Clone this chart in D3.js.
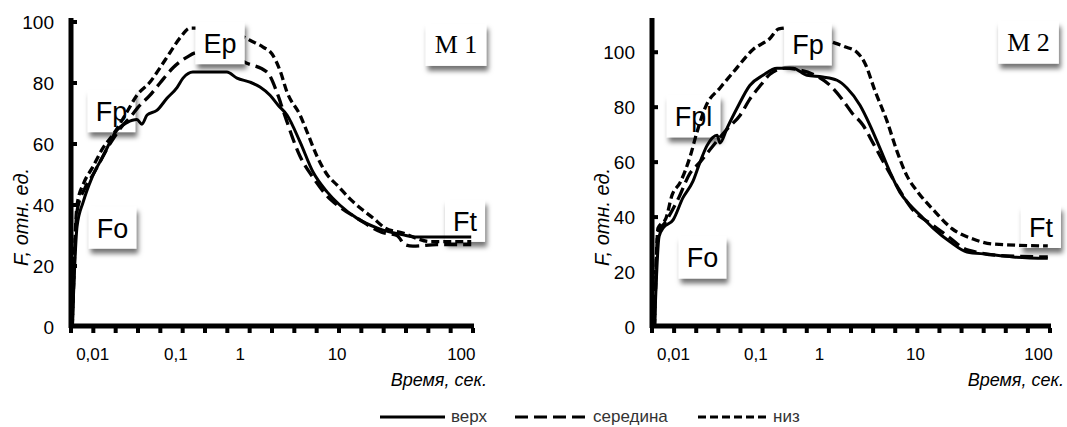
<!DOCTYPE html>
<html>
<head>
<meta charset="utf-8">
<script src="https://cdn.jsdelivr.net/npm/d3@7"></script>
<style>
    body { margin: 0; background: #fff; }
    svg { display: block; font-family: Arial, "Liberation Sans", sans-serif; }
</style>
</head>
<body>
<svg width="1067" height="427"></svg>
<script>
// time, sec -> F, rel. units
const m1Verh = [[0.0057, 0], [0.0065, 33], [0.0077, 41], [0.0098, 49], [0.0133, 56], [0.0196, 64.6], [0.0258, 67], [0.034, 68], [0.039, 66.5], [0.045, 69.5], [0.059, 71], [0.078, 75], [0.104, 78.5], [0.129, 81.6], [0.184, 83.6], [0.62, 83.6], [0.89, 81.6], [1.26, 80.3], [1.6, 78.7], [2.03, 76], [2.45, 72.8], [3.04, 69.5], [4.14, 60.7], [5.64, 50.8], [7.87, 44.3], [10.5, 40], [14.4, 35.7], [20.9, 32.5], [33.9, 30.2], [44, 29.5], [120, 29.5]]
const m1Sered = [[0.0057, 0], [0.0065, 38], [0.0081, 45.6], [0.0101, 50], [0.0161, 60], [0.0213, 65], [0.0297, 69.5], [0.035, 72], [0.0489, 76], [0.0644, 80], [0.0923, 85], [0.149, 88.5], [0.213, 90], [0.406, 90], [0.77, 88.5], [1.17, 86.5], [1.89, 83.6], [2.45, 76], [2.77, 71], [4.14, 56], [5.64, 49], [7.87, 43], [10, 40], [14.7, 35.5], [23, 31], [30.3, 30], [35.2, 27], [40.8, 26.5], [63.7, 27], [120, 27]]
const m1Niz = [[0.0057, 0], [0.0065, 40], [0.0079, 47.5], [0.0098, 52], [0.0133, 58.7], [0.0175, 63], [0.0258, 70.5], [0.034, 76], [0.0489, 80.3], [0.0644, 85], [0.085, 90], [0.116, 94.8], [0.166, 98], [0.62, 98], [0.99, 95.7], [1.26, 94], [1.72, 91.8], [2.13, 89.5], [2.58, 84], [3.04, 77], [4.14, 69.5], [4.89, 64], [6.2, 56], [7.87, 50], [10, 46.5], [12.7, 42], [15.9, 38.5], [19.5, 35.7], [24.3, 32.5], [33.9, 30.8], [44, 29], [56, 28], [120, 28]]

const m2Verh = [[0.0059, 0], [0.0067, 33], [0.0075, 36], [0.0099, 39], [0.013, 47], [0.0172, 53], [0.021, 60], [0.0255, 66], [0.0338, 69.8], [0.0367, 67], [0.0447, 72.4], [0.059, 79.6], [0.0848, 88], [0.129, 91.6], [0.214, 94.2], [0.382, 94.2], [0.634, 91.6], [1.08, 91], [1.52, 89.8], [1.93, 87], [2.64, 80.7], [3.35, 73.5], [4.27, 65], [5.42, 56.4], [6.89, 49], [8.77, 44.4], [10.9, 40.7], [13.9, 36], [19.1, 31], [26.2, 27.3], [38.1, 26.5], [62, 25.5], [119, 25]]
const m2Sered = [[0.0059, 0], [0.0065, 34.5], [0.0079, 38], [0.01135, 46.5], [0.0159, 56], [0.021, 60], [0.0294, 65.5], [0.0367, 69], [0.0447, 72], [0.0641, 77], [0.0848, 83], [0.124, 88.5], [0.166, 92], [0.286, 94.2], [0.491, 93.5], [0.785, 92], [1.28, 88], [1.71, 83], [2.17, 78], [2.83, 73.5], [3.6, 67], [4.48, 61], [5.69, 54.5], [6.89, 49.5], [9.2, 43], [13.9, 37], [19.1, 32.4], [24.4, 28.7], [33.5, 27], [48.7, 26], [119, 25.5]]
const m2Niz = [[0.0059, 0], [0.0065, 36], [0.0081, 39.5], [0.0096, 48], [0.012, 52.5], [0.0159, 62], [0.0193, 71], [0.0248, 80.5], [0.0367, 87], [0.0558, 93.5], [0.0923, 101], [0.166, 105], [0.229, 108.5], [0.384, 109], [0.847, 106], [1.28, 104], [1.84, 102], [2.45, 100], [2.97, 96], [3.78, 86], [5.04, 75], [6.41, 64], [8.15, 55], [10.5, 49], [14.4, 42], [19.8, 35.8], [29.4, 32], [42.8, 30.2], [119, 29.5]]

const seriesNames = ["верх", "середина", "низ"]
const seriesDash = [null, "13,6", "8,4"]

const xTickValues = [0.01, 0.1, 1, 10, 100]
const xTickLabels = ["0,01", "0,1", "1", "10", "100"]
const yTicksM1 = [0, 20, 40, 60, 80, 100]
const yTicksM2 = [0, 20, 40, 60, 80, 100]

// box labels, placed at (time, F)
const m1Labels = [
    { text: "Fp", t: 0.0168, f: 70.8, over: false },
    { text: "Fo", t: 0.0173, f: 32.6, over: false },
    { text: "Ft", t: 107, f: 34.8, over: false },
    { text: "Ep", t: 0.485, f: 93.1, over: true },
    { text: "M 1", t: 90.6, f: 92.5, over: true, serif: true }
]
const m2Labels = [
    { text: "Fpl", t: 0.0175, f: 76.7, over: false },
    { text: "Fo", t: 0.0225, f: 25.3, over: false },
    { text: "Ft", t: 104.7, f: 36.4, over: false },
    { text: "Fp", t: 0.657, f: 102.9, over: true },
    { text: "M 2", t: 83, f: 103.5, over: true, serif: true }
]

const panels = [
    { x0: 71, x1: 473, yMax: 100, yTicks: yTicksM1, series: [m1Verh, m1Sered, m1Niz], labels: m1Labels },
    { x0: 652, x1: 1050, yMax: 111, yTicks: yTicksM2, series: [m2Verh, m2Sered, m2Niz], labels: m2Labels }
]

const yBottom = 327
const yTop = 22
// where the decade labels sit along the axis (fraction of width)
const xDomain = [0.0055, 0.01, 0.1, 1, 10, 100, 124]
const xFrac = [0, 0.054, 0.261, 0.421, 0.662, 0.971, 1]

const svg = d3.select("svg")

const filter = svg.append("defs").append("filter")
    .attr("id", "shadow")
    .attr("x", "-40%").attr("y", "-40%")
    .attr("width", "180%").attr("height", "190%")
filter.append("feDropShadow")
    .attr("dx", 2).attr("dy", 5)
    .attr("stdDeviation", 2.5)
    .attr("flood-color", "#000")
    .attr("flood-opacity", 0.55)

function drawLabels(g, labels, x, y) {
    labels.forEach(function (d) {
        const lg = g.append("g")
        const rect = lg.append("rect")
            .attr("fill", "#fff")
            .attr("filter", "url(#shadow)")
        const txt = lg.append("text")
            .text(d.text)
            .attr("x", x(d.t))
            .attr("y", y(d.f) + (d.serif ? 8 : 10))
            .attr("text-anchor", "middle")
            .style("font-size", d.serif ? "26px" : "27px")
            .style("font-family", d.serif ? "'Liberation Serif', 'Times New Roman', serif" : "Arial, 'Liberation Sans', sans-serif")
        const w = txt.node().getComputedTextLength() + (d.serif ? 18 : 16)
        const h = 42
        rect.attr("x", x(d.t) - w / 2)
            .attr("y", y(d.f) - h / 2)
            .attr("width", w)
            .attr("height", h)
    })
}

panels.forEach(function (p) {
    const x = d3.scaleLog()
        .domain(xDomain)
        .range(xFrac.map(f => p.x0 + f * (p.x1 - p.x0)))
    const y = d3.scaleLinear()
        .domain([0, p.yMax])
        .range([yBottom, yTop])

    const g = svg.append("g")

    drawLabels(g, p.labels.filter(d => !d.over), x, y)

    const line = d3.line()
        .x(d => x(d[0]))
        .y(d => y(d[1]))
        .curve(d3.curveMonotoneX)

    p.series.forEach(function (s, i) {
        g.append("path")
            .datum(s)
            .attr("d", line)
            .style("fill", "none")
            .style("stroke", "#000")
            .style("stroke-width", i == 0 ? 3 : 3.3)
            .style("stroke-dasharray", seriesDash[i])
    })

    drawLabels(g, p.labels.filter(d => d.over), x, y)

    // y axis
    g.append("line")
        .attr("x1", p.x0).attr("x2", p.x0)
        .attr("y1", yBottom + 1).attr("y2", yTop - 4)
        .style("stroke", "#000").style("stroke-width", 5)
    g.selectAll(".ytick")
        .data(p.yTicks.filter(v => v > 0))
        .join("rect")
        .attr("x", p.x0 + 2)
        .attr("y", v => y(v) - 2)
        .attr("width", 4)
        .attr("height", 4)
        .attr("fill", "#000")
    g.selectAll(".ylab")
        .data(p.yTicks)
        .join("text")
        .attr("x", p.x0 - 17)
        .attr("y", v => y(v))
        .attr("dy", "0.35em")
        .attr("text-anchor", "end")
        .style("font-size", "19px")
        .text(v => v)

    // x axis
    g.append("line")
        .attr("x1", p.x0 - 2).attr("x2", p.x1 + 1)
        .attr("y1", yBottom - 1).attr("y2", yBottom - 1)
        .style("stroke", "#000").style("stroke-width", 5)
    const tickPos = d3.scaleLinear().domain([0, 18]).range([p.x0, p.x1])
    g.selectAll(".xtick")
        .data(d3.range(19))
        .join("rect")
        .attr("x", i => tickPos(i) - 2)
        .attr("y", yBottom + 1)
        .attr("width", 4)
        .attr("height", 5)
        .attr("fill", "#000")
    g.selectAll(".xlab")
        .data(xTickValues)
        .join("text")
        .attr("x", v => x(v))
        .attr("y", 360)
        .attr("text-anchor", "middle")
        .style("font-size", "17px")
        .text((v, i) => xTickLabels[i])

    g.append("text")
        .text("Время, сек.")
        .attr("x", p.x1 + 14)
        .attr("y", 386)
        .attr("text-anchor", "end")
        .style("font-size", "18px")
        .style("font-style", "italic")

    g.append("text")
        .text("F, отн. ед.")
        .attr("transform", `translate(${p.x0 - 50}, 217) rotate(-90)`)
        .attr("text-anchor", "middle")
        .attr("dy", "0.35em")
        .style("font-size", "20px")
        .style("font-style", "italic")
})

// legend
const legendX = [380, 515, 698]
const legendLen = [65, 72, 69]
const lg = svg.append("g")
seriesNames.forEach(function (name, i) {
    lg.append("line")
        .attr("x1", legendX[i]).attr("x2", legendX[i] + legendLen[i])
        .attr("y1", 417).attr("y2", 417)
        .style("stroke", "#000")
        .style("stroke-width", 3)
        .style("stroke-dasharray", seriesDash[i])
    lg.append("text")
        .text(name)
        .attr("x", legendX[i] + legendLen[i] + 6)
        .attr("y", 422)
        .style("font-size", "17px")
        .style("fill", "#333")
})
</script>
</body>
</html>
